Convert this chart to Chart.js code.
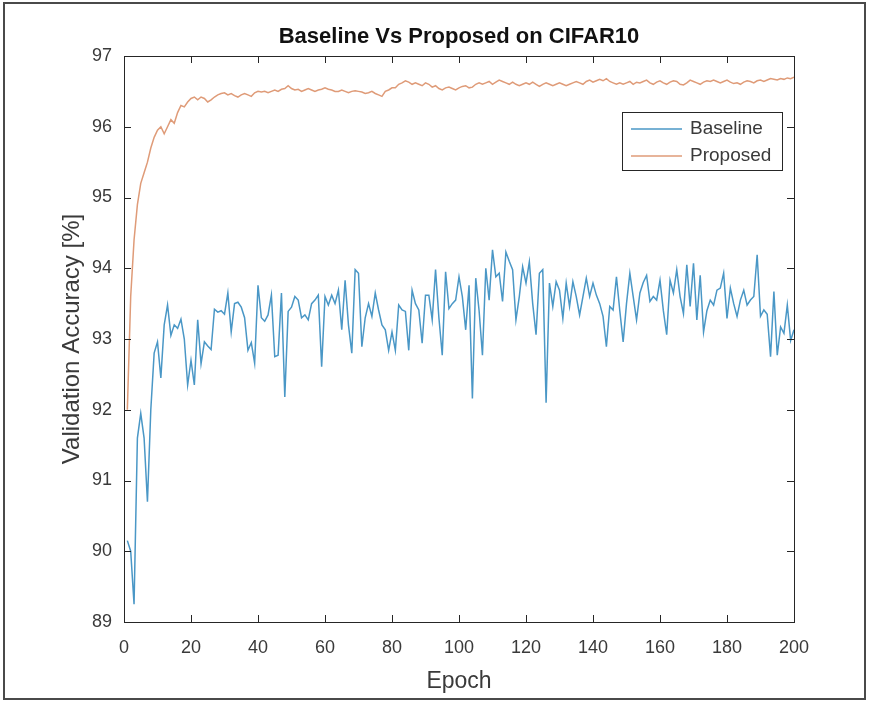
<!DOCTYPE html>
<html>
<head>
<meta charset="utf-8">
<title>Baseline Vs Proposed on CIFAR10</title>
<script src="https://cdn.jsdelivr.net/npm/chart.js@4"></script>
<style>
  html, body { margin: 0; padding: 0; background: #fff; }
  #wrap { width: 869px; height: 702px; }
</style>
</head>
<body>
<div id="wrap"><canvas id="accChart" width="869" height="702"></canvas></div>
<script>
// validation accuracy (%) per epoch, epochs 1..200
const baseline = [
  90.15, 90.0, 89.25, 91.6, 91.95, 91.6, 90.7, 92.0, 92.8, 92.96,
  92.45, 93.2, 93.48, 93.05, 93.2, 93.15, 93.28, 93.0, 92.35, 92.7,
  92.35, 93.27, 92.65, 92.96, 92.9, 92.85, 93.42, 93.38, 93.4, 93.35,
  93.65, 93.1, 93.5, 93.52, 93.45, 93.3, 92.84, 92.95, 92.66, 93.76,
  93.3, 93.25, 93.34, 93.62, 92.75, 92.77, 93.65, 92.18, 93.39, 93.45,
  93.6, 93.55, 93.3, 93.34, 93.27, 93.5, 93.55, 93.62, 92.61, 93.6,
  93.48, 93.62, 93.5, 93.69, 93.13, 93.83, 93.2, 92.8, 93.98, 93.93,
  92.89, 93.3, 93.5, 93.32, 93.65, 93.41, 93.2, 93.13, 92.84, 93.1,
  92.84, 93.48, 93.41, 93.39, 92.84, 93.69, 93.5, 93.41, 92.94, 93.62,
  93.62, 93.27, 93.98, 93.3, 92.77, 93.95, 93.43, 93.5, 93.55, 93.88,
  93.6, 93.13, 93.76, 92.16, 93.86, 93.4, 92.77, 94.0, 93.55, 94.26,
  93.88, 93.93, 93.53, 94.23, 94.1, 93.98, 93.27, 93.6, 94.02, 93.79,
  94.09, 93.5, 93.06, 93.93, 93.98, 92.1, 93.79, 93.46, 93.81, 93.69,
  93.29, 93.79, 93.46, 93.81, 93.6, 93.34, 93.6, 93.86, 93.6, 93.79,
  93.62, 93.5, 93.32, 92.89, 93.46, 93.41, 93.88, 93.4, 92.96, 93.5,
  93.93, 93.6, 93.27, 93.65, 93.8, 93.9, 93.53, 93.6, 93.55, 93.83,
  93.4, 93.06, 93.83, 93.65, 93.98, 93.6, 93.36, 94.05, 93.46, 94.07,
  93.27, 93.9, 93.1, 93.4, 93.55, 93.48, 93.69, 93.72, 93.93, 93.29,
  93.72, 93.5, 93.32, 93.55, 93.69, 93.48, 93.55, 93.6, 94.19, 93.32,
  93.41, 93.35, 92.75, 93.67, 92.77, 93.17, 93.08, 93.48, 92.98, 93.13
];

const proposed = [
  92.0, 93.6, 94.4, 94.9, 95.2, 95.35, 95.5, 95.7, 95.85, 95.95,
  96.0, 95.9, 96.0, 96.1, 96.05, 96.2, 96.3, 96.28, 96.35, 96.4,
  96.42, 96.38, 96.42, 96.4, 96.35, 96.38, 96.42, 96.45, 96.47, 96.48,
  96.45, 96.47, 96.44, 96.42, 96.45, 96.47, 96.45, 96.43, 96.48, 96.5,
  96.49, 96.5, 96.48, 96.5, 96.52, 96.5, 96.53, 96.54, 96.58, 96.54,
  96.52, 96.53, 96.5, 96.52, 96.54, 96.52, 96.5, 96.52, 96.53, 96.55,
  96.53, 96.52, 96.5, 96.5, 96.52, 96.5, 96.48, 96.5, 96.51, 96.5,
  96.49, 96.47, 96.48, 96.5, 96.47, 96.45, 96.43, 96.5, 96.52, 96.55,
  96.55, 96.6, 96.62, 96.65, 96.63, 96.6, 96.62, 96.6, 96.58, 96.62,
  96.6, 96.56, 96.58, 96.54, 96.52, 96.55, 96.56, 96.54, 96.52, 96.55,
  96.57, 96.58, 96.55, 96.56, 96.6, 96.62, 96.6, 96.62, 96.64, 96.6,
  96.63, 96.66, 96.64, 96.62, 96.6, 96.63, 96.6, 96.58, 96.6, 96.62,
  96.6, 96.63, 96.6, 96.57, 96.6, 96.62, 96.6, 96.58, 96.6, 96.62,
  96.6, 96.58, 96.6, 96.62, 96.64, 96.62, 96.6, 96.64, 96.66, 96.63,
  96.65, 96.67, 96.65, 96.68, 96.64, 96.62, 96.6, 96.62, 96.6, 96.62,
  96.64, 96.6, 96.63, 96.62, 96.64, 96.66, 96.62, 96.6, 96.63, 96.65,
  96.62, 96.6, 96.63, 96.65, 96.64, 96.6, 96.59, 96.62, 96.66, 96.64,
  96.62, 96.6, 96.63, 96.65, 96.64, 96.66, 96.64, 96.62, 96.64, 96.66,
  96.63, 96.61, 96.62, 96.6, 96.63, 96.65, 96.64, 96.62, 96.65, 96.66,
  96.64, 96.66, 96.68, 96.67, 96.66, 96.68, 96.67, 96.69, 96.68, 96.7
];

const epochs = baseline.map((v, i) => i + 1);
const xTicks = [0, 20, 40, 60, 80, 100, 120, 140, 160, 180, 200];
const yTicks = [89, 90, 91, 92, 93, 94, 95, 96, 97];
const chartTitle = 'Baseline Vs Proposed on CIFAR10';

const FONT = "'Liberation Sans', Arial, sans-serif";
const AXIS_COLOR = '#262626';
const TEXT_COLOR = '#3a3a3a';

// white page, outer frame, title, axes box with inward ticks
const boxPlugin = {
  id: 'boxPlugin',
  beforeDraw(chart) {
    const {ctx, chartArea: a} = chart;
    ctx.save();
    ctx.fillStyle = '#fff';
    ctx.fillRect(0, 0, chart.width, chart.height);
    ctx.strokeStyle = '#4a4a4a';
    ctx.lineWidth = 2;
    ctx.strokeRect(4, 3, chart.width - 8, chart.height - 6);
    ctx.fillStyle = '#111';
    ctx.font = 'bold 22px ' + FONT;
    ctx.textAlign = 'center';
    ctx.textBaseline = 'middle';
    ctx.fillText(chartTitle, (a.left + a.right) / 2, 37);
    ctx.restore();
  },
  afterDatasetsDraw(chart) {
    const {ctx, chartArea: a, scales: {x, y}} = chart;
    const len = 7;
    ctx.save();
    ctx.strokeStyle = AXIS_COLOR;
    ctx.lineWidth = 1;
    ctx.beginPath();
    x.ticks.forEach(t => {
      const px = Math.round(x.getPixelForValue(t.value)) + 0.5;
      ctx.moveTo(px, a.bottom); ctx.lineTo(px, a.bottom - len);
      ctx.moveTo(px, a.top); ctx.lineTo(px, a.top + len);
    });
    y.ticks.forEach(t => {
      const py = Math.round(y.getPixelForValue(t.value)) + 0.5;
      ctx.moveTo(a.left, py); ctx.lineTo(a.left + len, py);
      ctx.moveTo(a.right, py); ctx.lineTo(a.right - len, py);
    });
    ctx.stroke();
    ctx.strokeRect(Math.round(a.left) + 0.5, Math.round(a.top) + 0.5,
      Math.round(a.width), Math.round(a.height));
    ctx.restore();
  }
};

// boxed legend in the upper right of the axes
const boxLegend = {
  id: 'boxLegend',
  afterDraw(chart) {
    const {ctx, chartArea: a} = chart;
    const w = 160, h = 58;
    const left = a.right - 12 - w, top = a.top + 56;
    ctx.save();
    ctx.fillStyle = '#fff';
    ctx.fillRect(left, top, w, h);
    ctx.strokeStyle = AXIS_COLOR;
    ctx.lineWidth = 1;
    ctx.strokeRect(left + 0.5, top + 0.5, w, h);
    ctx.font = '19px ' + FONT;
    ctx.textBaseline = 'middle';
    chart.data.datasets.forEach((ds, i) => {
      const yy = top + 17 + i * 27;
      ctx.strokeStyle = ds.borderColor;
      ctx.lineWidth = ds.borderWidth;
      ctx.beginPath();
      ctx.moveTo(left + 9, yy);
      ctx.lineTo(left + 60, yy);
      ctx.stroke();
      ctx.fillStyle = TEXT_COLOR;
      ctx.fillText(ds.label, left + 68, yy);
    });
    ctx.restore();
  }
};

new Chart(document.getElementById('accChart'), {
  type: 'line',
  data: {
    datasets: [
      {
        label: 'Baseline',
        data: epochs.map((e, i) => ({x: e, y: baseline[i]})),
        borderColor: '#4a97c6',
        borderWidth: 1.5,
        pointRadius: 0,
        tension: 0
      },
      {
        label: 'Proposed',
        data: epochs.map((e, i) => ({x: e, y: proposed[i]})),
        borderColor: '#df9b78',
        borderWidth: 1.5,
        pointRadius: 0,
        tension: 0
      }
    ]
  },
  options: {
    responsive: false,
    animation: false,
    devicePixelRatio: 1,
    layout: { padding: { left: 0, right: 75, top: 56, bottom: 0 } },
    plugins: {
      legend: { display: false },
      tooltip: { enabled: false },
      title: { display: false }
    },
    scales: {
      x: {
        type: 'linear',
        min: 0,
        max: 200,
        afterBuildTicks: s => { s.ticks = xTicks.map(v => ({value: v})); },
        afterFit: s => { s.height = 80; },
        grid: { display: false, drawTicks: false },
        border: { display: false },
        ticks: { color: TEXT_COLOR, font: { family: FONT, size: 18 }, padding: 15, maxRotation: 0 },
        title: {
          display: true,
          text: 'Epoch',
          color: TEXT_COLOR,
          font: { family: FONT, size: 23 },
          padding: { top: 0, bottom: 7 }
        }
      },
      y: {
        min: 89,
        max: 97,
        afterBuildTicks: s => { s.ticks = yTicks.map(v => ({value: v})); },
        afterFit: s => { s.width = 124; },
        grid: { display: false, drawTicks: false },
        border: { display: false },
        ticks: { color: TEXT_COLOR, font: { family: FONT, size: 18 }, padding: 12 },
        title: {
          display: true,
          text: 'Validation Accuracy [%]',
          color: TEXT_COLOR,
          font: { family: FONT, size: 24 },
          padding: { top: 58, bottom: 0 }
        }
      }
    }
  },
  plugins: [boxPlugin, boxLegend]
});
</script>
</body>
</html>
